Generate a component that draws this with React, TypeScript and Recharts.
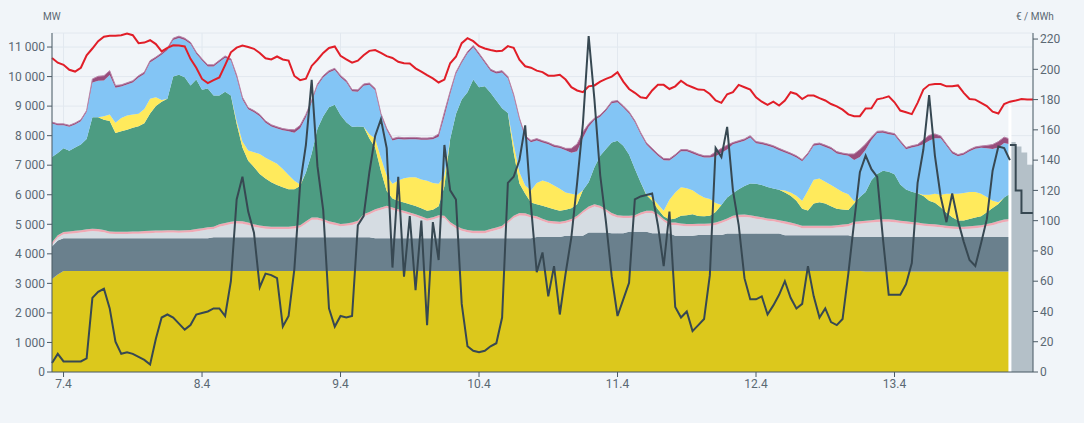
import { ComposedChart, Area, Line, XAxis, YAxis, CartesianGrid, ReferenceLine } from 'recharts'

// hourly values, index 0 = 6.4 22:00, production areas end at index 166
const nuclear = [
  3150, 3300, 3420, 3420, 3420, 3420, 3420, 3420, 3420, 3420,
  3420, 3420, 3420, 3420, 3420, 3420, 3420, 3420, 3420, 3420,
  3420, 3420, 3420, 3420, 3420, 3420, 3420, 3420, 3420, 3420,
  3420, 3420, 3420, 3420, 3420, 3420, 3420, 3420, 3420, 3420,
  3420, 3420, 3420, 3420, 3420, 3420, 3420, 3420, 3420, 3420,
  3420, 3420, 3420, 3420, 3420, 3420, 3420, 3420, 3420, 3420,
  3420, 3420, 3420, 3420, 3420, 3420, 3420, 3420, 3420, 3420,
  3420, 3420, 3420, 3420, 3420, 3420, 3420, 3420, 3420, 3420,
  3420, 3420, 3420, 3420, 3420, 3420, 3420, 3420, 3420, 3420,
  3420, 3420, 3420, 3420, 3420, 3420, 3420, 3420, 3420, 3420,
  3420, 3420, 3420, 3420, 3420, 3420, 3420, 3420, 3420, 3420,
  3420, 3420, 3420, 3420, 3420, 3420, 3420, 3420, 3420, 3420,
  3420, 3420, 3420, 3420, 3420, 3420, 3420, 3420, 3420, 3420,
  3420, 3420, 3420, 3420, 3420, 3420, 3420, 3420, 3420, 3420,
  3420, 3400, 3400, 3400, 3400, 3400, 3400, 3400, 3400, 3400,
  3400, 3400, 3400, 3400, 3400, 3400, 3400, 3400, 3400, 3400,
  3400, 3400, 3400, 3400, 3400, 3400, 3400,
]

const thermal = [
  1100, 1150, 1110, 1110, 1110, 1110, 1110, 1110, 1110, 1110,
  1110, 1110, 1110, 1110, 1110, 1110, 1110, 1110, 1110, 1110,
  1110, 1110, 1110, 1110, 1110, 1110, 1110, 1110, 1140, 1140,
  1140, 1140, 1140, 1140, 1140, 1140, 1140, 1140, 1140, 1140,
  1140, 1140, 1140, 1140, 1140, 1140, 1140, 1140, 1140, 1140,
  1140, 1140, 1140, 1140, 1140, 1140, 1110, 1110, 1110, 1110,
  1110, 1110, 1110, 1110, 1110, 1110, 1110, 1110, 1110, 1110,
  1110, 1110, 1110, 1110, 1110, 1110, 1110, 1110, 1110, 1110,
  1110, 1110, 1110, 1110, 1150, 1150, 1150, 1150, 1150, 1190,
  1190, 1190, 1190, 1300, 1300, 1300, 1300, 1280, 1280, 1280,
  1330, 1330, 1330, 1330, 1280, 1280, 1280, 1280, 1190, 1190,
  1190, 1190, 1220, 1220, 1220, 1220, 1220, 1270, 1270, 1270,
  1270, 1270, 1270, 1270, 1270, 1270, 1270, 1210, 1210, 1210,
  1210, 1210, 1210, 1210, 1210, 1210, 1210, 1210, 1210, 1150,
  1150, 1170, 1170, 1170, 1170, 1170, 1170, 1170, 1170, 1170,
  1170, 1170, 1170, 1170, 1170, 1170, 1170, 1170, 1170, 1170,
  1170, 1170, 1170, 1170, 1170, 1170, 1170,
]

const gas = [
  60, 100, 130, 150, 170, 190, 220, 240, 230, 200,
  150, 140, 140, 140, 150, 150, 160, 170, 180, 180,
  190, 190, 180, 190, 200, 230, 260, 290, 280, 360,
  400, 450, 470, 460, 420, 360, 320, 290, 280, 280,
  280, 280, 300, 330, 460, 590, 590, 540, 460, 420,
  370, 390, 420, 480, 700, 780, 900, 960, 1020, 960,
  900, 850, 790, 730, 660, 590, 630, 700, 680, 470,
  340, 250, 200, 170, 170, 170, 230, 280, 340, 510,
  680, 770, 760, 700, 620, 540, 470, 450, 440, 430,
  490, 600, 770, 800, 880, 830, 710, 600, 530, 510,
  460, 480, 570, 630, 680, 570, 400, 280, 370, 340,
  320, 320, 300, 300, 310, 340, 400, 430, 520, 550,
  560, 540, 500, 470, 430, 410, 370, 390, 350, 300,
  240, 240, 240, 240, 240, 240, 260, 280, 300, 440,
  450, 470, 490, 510, 520, 520, 500, 470, 450, 430,
  410, 380, 360, 350, 330, 300, 280, 270, 270, 280,
  300, 320, 360, 400, 460, 510, 530,
]

const other = [
  80, 80, 80, 80, 80, 80, 80, 80, 80, 80,
  80, 80, 80, 80, 80, 80, 80, 80, 80, 80,
  80, 80, 80, 80, 80, 80, 80, 80, 80, 80,
  80, 80, 80, 80, 80, 80, 80, 80, 80, 80,
  80, 80, 80, 80, 80, 80, 80, 80, 80, 80,
  80, 80, 80, 80, 80, 80, 80, 80, 80, 80,
  80, 80, 80, 80, 80, 80, 80, 80, 80, 80,
  80, 80, 80, 80, 80, 80, 80, 80, 80, 80,
  80, 80, 80, 80, 80, 80, 80, 80, 80, 80,
  80, 80, 80, 80, 80, 80, 80, 80, 80, 80,
  80, 80, 80, 80, 80, 80, 80, 80, 80, 80,
  80, 80, 80, 80, 80, 80, 80, 80, 80, 80,
  80, 80, 80, 80, 80, 80, 80, 80, 80, 80,
  80, 80, 80, 80, 80, 80, 80, 80, 80, 80,
  80, 80, 80, 80, 80, 80, 80, 80, 80, 80,
  80, 80, 80, 80, 80, 80, 80, 80, 80, 80,
  80, 80, 80, 80, 80, 80, 80,
]

const wind = [
  2890, 2780, 2830, 2730, 2820, 2900, 3060, 3770, 3780, 3730,
  3740, 3340, 3400, 3450, 3510, 3560, 3650, 3970, 4210, 4360,
  4450, 5200, 5270, 5180, 4890, 5060, 4680, 4700, 4440, 4360,
  4450, 4270, 3290, 2500, 2090, 1940, 1740, 1620, 1500, 1410,
  1330, 1270, 1250, 1330, 1650, 2170, 3000, 3480, 3860, 3990,
  3690, 3420, 3240, 3190, 2960, 2480, 2090, 1230, 500, 300,
  280, 280, 280, 280, 270, 260, 250, 300, 1000, 2810,
  3780, 4360, 4660, 5120, 4860, 4890, 4610, 4300, 3980, 3650,
  2150, 1000, 660, 430, 410, 440, 450, 410, 370, 370,
  360, 390, 690, 820, 1250, 1690, 2040, 2390, 2520, 2370,
  2070, 1570, 1020, 530, 340, 160, 90, 100, 140, 260,
  300, 330, 260, 250, 260, 360, 530, 710, 760, 870,
  970, 1070, 1100, 1090, 1060, 1030, 1030, 980, 910, 790,
  580, 520, 750, 800, 750, 660, 560, 510, 470, 610,
  820, 970, 1350, 1540, 1640, 1610, 1540, 1230, 1080, 1020,
  990, 930, 790, 730, 600, 440, 310, 210, 210, 250,
  280, 300, 400, 500, 580, 750, 850,
]

const solar = [
  0, 0, 0, 0, 0, 0, 0, 0, 0, 120,
  220, 350, 450, 480, 450, 420, 480, 500, 300, 60,
  0, 0, 0, 0, 0, 0, 0, 0, 0, 0,
  0, 0, 100, 200, 350, 500, 680, 700, 730, 720,
  620, 480, 280, 50, 0, 0, 0, 0, 0, 0,
  0, 0, 0, 0, 0, 150, 300, 450, 520, 500,
  690, 820, 910, 970, 980, 1010, 910, 760, 360, 0,
  0, 0, 0, 0, 0, 0, 0, 0, 0, 0,
  280, 380, 280, 400, 720, 850, 850, 800, 740, 590,
  490, 310, 0, 0, 0, 0, 0, 0, 0, 0,
  0, 0, 0, 30, 110, 170, 190, 670, 880, 960,
  910, 810, 740, 640, 570, 300, 0, 0, 0, 0,
  0, 0, 0, 0, 0, 0, 0, 60, 110, 170,
  270, 670, 810, 800, 740, 720, 680, 590, 540, 80,
  0, 0, 0, 0, 0, 0, 0, 0, 0, 0,
  0, 40, 200, 300, 420, 640, 790, 900, 930, 910,
  860, 760, 510, 250, 60, 0, 0,
]

const hydro = [
  1130, 940, 780, 810, 780, 790, 910, 1180, 1240, 1210,
  1330, 1180, 1060, 1050, 1080, 1230, 1190, 1230, 1300, 1530,
  1650, 1240, 1250, 1260, 1400, 870, 990, 740, 980, 1130,
  1150, 1180, 1470, 1420, 1390, 1350, 1280, 1190, 1160, 1190,
  1310, 1480, 1630, 1900, 1870, 1740, 1460, 1310, 1180, 1170,
  1280, 1360, 1200, 1180, 1390, 1670, 1640, 1440, 1540, 1470,
  1410, 1310, 1290, 1290, 1340, 1390, 1480, 1590, 2000, 1510,
  1360, 1240, 1310, 1090, 1090, 790, 740, 910, 1210, 1170,
  1620, 1780, 1630, 1640, 1440, 1290, 1290, 1310, 1380, 1430,
  1390, 1480, 1770, 1880, 1600, 1320, 1290, 1330, 1300, 1290,
  1390, 1570, 1630, 1680, 1600, 1640, 1710, 1330, 1220, 1220,
  1250, 1250, 1300, 1350, 1400, 1580, 1770, 1620, 1660, 1580,
  1530, 1560, 1370, 1380, 1400, 1390, 1340, 1290, 1270, 1290,
  1330, 1210, 1150, 1140, 1180, 1210, 1190, 1260, 1300, 1400,
  1360, 1430, 1360, 1390, 1290, 1270, 1320, 1420, 1360, 1500,
  1590, 1710, 1830, 1880, 1910, 1630, 1370, 1270, 1290, 1380,
  1470, 1560, 1650, 1750, 1850, 1840, 1680,
]

const reserve = [
  50, 50, 50, 50, 50, 50, 50, 120, 150, 160,
  150, 80, 60, 60, 60, 60, 60, 60, 60, 60,
  60, 60, 60, 60, 60, 60, 60, 60, 60, 60,
  60, 60, 80, 80, 60, 60, 60, 60, 60, 60,
  60, 60, 100, 100, 100, 60, 60, 60, 60, 60,
  60, 60, 60, 60, 60, 60, 60, 60, 60, 60,
  60, 60, 60, 60, 60, 60, 60, 100, 150, 100,
  60, 60, 60, 60, 60, 60, 60, 60, 60, 60,
  60, 60, 60, 60, 60, 60, 60, 60, 60, 60,
  150, 250, 200, 100, 60, 60, 60, 60, 60, 60,
  60, 60, 60, 60, 60, 60, 60, 60, 60, 60,
  60, 60, 60, 60, 60, 150, 150, 150, 60, 60,
  60, 60, 60, 60, 60, 60, 60, 60, 60, 60,
  60, 60, 60, 60, 60, 60, 60, 60, 60, 200,
  250, 200, 100, 60, 60, 60, 60, 60, 60, 60,
  60, 150, 180, 150, 80, 60, 60, 60, 60, 60,
  60, 60, 100, 150, 200, 200, 180,
]

const consumption = [
  10630, 10470, 10400, 10230, 10170, 10300, 10720, 10950, 11200, 11350,
  11380, 11380, 11400, 11460, 11400, 11130, 11150, 11230, 11100, 10850,
  10970, 11060, 11050, 11020, 10600, 10300, 9920, 9780, 9880, 9970,
  10390, 10820, 10980, 11050, 11000, 10940, 10800, 10620, 10580, 10680,
  10580, 10540, 10020, 9880, 9930, 10360, 10570, 10800, 10970, 11020,
  10700, 10580, 10470, 10540, 10720, 10870, 10900, 10800, 10690, 10630,
  10500, 10450, 10440, 10280, 10170, 10050, 9940, 9800, 9900, 10450,
  10670, 11130, 11300, 11200, 11030, 10950, 10900, 10860, 10870, 11030,
  10970, 10570, 10350, 10300, 10200, 10150, 10030, 10030, 10060, 9900,
  9640, 9530, 9470, 9670, 9700, 9830, 9920, 10000, 10150, 9830,
  9580, 9450, 9300, 9270, 9530, 9720, 9720, 9580, 9670, 9860,
  9720, 9640, 9560, 9550, 9410, 9190, 9110, 9400, 9470, 9720,
  9640, 9560, 9300, 9150, 9040, 9150, 9020, 9190, 9470, 9410,
  9240, 9360, 9360, 9270, 9190, 9070, 8990, 8880, 8720, 8660,
  8660, 8920, 8930, 9230, 9270, 9330, 9130, 8850, 8790, 8730,
  9110, 9560, 9720, 9750, 9750, 9670, 9670, 9700, 9450, 9240,
  9220, 9110, 9000, 8810, 8750, 9070, 9150, 9190, 9240, 9220, 9220,
]

const price = [
  6, 12, 7, 7, 7, 7, 9, 49, 53, 55,
  42, 20, 12, 13, 12, 10, 8, 5, 22, 36,
  38, 36, 32, 28, 31, 38, 39, 40, 42, 42,
  37, 60, 114, 129, 106, 92, 56, 65, 64, 62,
  30, 37, 68, 124, 150, 193, 136, 107, 42, 30,
  37, 36, 37, 97, 103, 132, 156, 167, 148, 69,
  129, 63, 103, 54, 100, 31, 99, 74, 150, 120,
  114, 45, 17, 14, 13, 14, 17, 19, 36, 125,
  129, 140, 163, 110, 66, 79, 50, 70, 38, 65,
  89, 125, 164, 222, 180, 130, 99, 63, 37, 48,
  59, 114, 116, 117, 118, 97, 70, 106, 43, 36,
  40, 27, 31, 35, 64, 148, 142, 162, 120, 97,
  62, 48, 48, 50, 38, 44, 51, 60, 49, 42,
  45, 70, 50, 36, 42, 33, 31, 35, 65, 99,
  132, 143, 134, 129, 88, 51, 51, 51, 58, 72,
  125, 147, 183, 143, 116, 99, 118, 100, 86, 74,
  70, 85, 101, 133, 149, 148, 140,
]

// forecast, index 166..170
const priceForecast = [150, 120, 105, 105, 105]
const forecastBars = [152, 149, 145, 137, 137]
const FC_START = 166

const dayTicks = [2, 26, 50, 74, 98, 122, 146]
const dayLabels = ['7.4', '8.4', '9.4', '10.4', '11.4', '12.4', '13.4']
const mwTicks = [0, 1000, 2000, 3000, 4000, 5000, 6000, 7000, 8000, 9000, 10000, 11000]
const eurTicks = [0, 20, 40, 60, 80, 100, 120, 140, 160, 180, 200, 220]

const rows = consumption.map((c, i) => ({
  t: i,
  nuclear: nuclear[i],
  thermal: thermal[i],
  gas: gas[i],
  other: other[i],
  wind: wind[i],
  solar: solar[i],
  hydro: hydro[i],
  reserve: reserve[i],
  consumption: c,
  price: price[i],
  priceFc: i >= FC_START ? priceForecast[i - FC_START] : undefined,
  fcBars: i >= FC_START ? forecastBars[i - FC_START] : undefined,
}))

const AREAS = [
  { key: 'nuclear', color: '#dcc81c' },
  { key: 'thermal', color: '#6a808d' },
  { key: 'gas', color: '#d5dce2' },
  { key: 'other', color: '#eea9b4' },
  { key: 'wind', color: '#4d9c82' },
  { key: 'solar', color: '#ffea5c' },
  { key: 'hydro', color: '#83c5f5' },
  { key: 'reserve', color: '#984d7c' },
]

const AXIS = '#4b5a65'
const TICK = { fill: '#5b6873', fontSize: 12 }
const fmtMw = (v: number) => String(v).replace(/\B(?=(\d{3})+(?!\d))/g, '\u00a0')

export default function App() {
  return (
    <div style={{ position: 'relative', width: 1084, height: 423, background: '#f1f5f9', fontFamily: 'Roboto, sans-serif' }}>
      <style>{'body{margin:0;background:#f1f5f9}'}</style>
      <ComposedChart width={1084} height={423} data={rows} margin={{ top: 33, right: 0, bottom: 0, left: 0 }}>
        <CartesianGrid stroke="#e2e8ef" />
        <XAxis
          dataKey="t"
          type="number"
          domain={[0, 170]}
          ticks={dayTicks}
          tickFormatter={(v: number) => dayLabels[dayTicks.indexOf(v)]}
          height={51}
          tickSize={5}
          axisLine={{ stroke: AXIS }}
          tickLine={{ stroke: AXIS }}
          tick={TICK}
        />
        <YAxis
          domain={[0, 11475]}
          ticks={mwTicks}
          tickFormatter={fmtMw}
          width={52}
          tickSize={5}
          axisLine={{ stroke: AXIS }}
          tickLine={{ stroke: AXIS }}
          tick={TICK}
        />
        <YAxis
          yAxisId="eur"
          orientation="right"
          domain={[0, 224]}
          ticks={eurTicks}
          width={51}
          tickSize={5}
          axisLine={{ stroke: AXIS }}
          tickLine={{ stroke: AXIS }}
          tick={TICK}
        />
        {AREAS.map(a => (
          <Area
            key={a.key}
            dataKey={a.key}
            stackId="mw"
            type="linear"
            fill={a.color}
            fillOpacity={1}
            stroke={a.key === 'reserve' ? '#b884a8' : 'none'}
            strokeWidth={1}
            dot={false}
            activeDot={false}
            isAnimationActive={false}
          />
        ))}
        <Area
          dataKey="fcBars"
          yAxisId="eur"
          type="stepAfter"
          fill="#b4c0c8"
          fillOpacity={1}
          stroke="none"
          dot={false}
          activeDot={false}
          isAnimationActive={false}
        />
        <ReferenceLine
          segment={[{ x: FC_START, y: 0 }, { x: FC_START, y: 9050 }]}
          stroke="#ffffff"
          strokeWidth={3}
          ifOverflow="visible"
        />
        <Line dataKey="consumption" type="linear" stroke="#e11e28" strokeWidth={2} dot={false} activeDot={false} isAnimationActive={false} />
        <Line dataKey="price" yAxisId="eur" type="linear" stroke="#374852" strokeWidth={2} dot={false} activeDot={false} isAnimationActive={false} />
        <Line dataKey="priceFc" yAxisId="eur" type="stepAfter" stroke="#374852" strokeWidth={2} dot={false} activeDot={false} isAnimationActive={false} />
      </ComposedChart>
      <div style={{ position: 'absolute', left: 43, top: 11, fontSize: 10, color: '#5b6873' }}>MW</div>
      <div style={{ position: 'absolute', left: 1016, top: 11, fontSize: 10, color: '#5b6873' }}>€ / MWh</div>
    </div>
  )
}
